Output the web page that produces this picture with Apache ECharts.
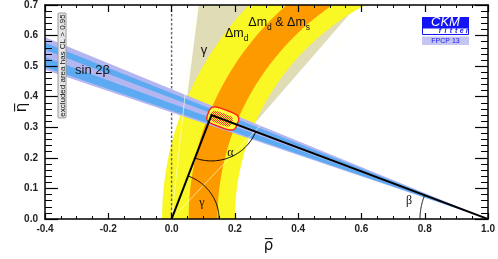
<!DOCTYPE html>
<html><head><meta charset="utf-8">
<script src="https://cdn.jsdelivr.net/npm/echarts@6/dist/echarts.min.js"></script>
<style>html,body{margin:0;padding:0;background:#fff}#c{width:498px;height:259px}</style>
</head><body><div id="c"></div>
<script>
// ---------- data ----------
const xTicks = [-0.4, -0.2, 0.0, 0.2, 0.4, 0.6, 0.8, 1.0];
const yTicks = [0.0, 0.1, 0.2, 0.3, 0.4, 0.5, 0.6, 0.7];
const apex = [0.126, 0.340];                 // (rho-bar, eta-bar) of the triangle apex
const gammaBandDeg = [50, 83];               // gamma constraint wedge (degrees)
const gammaEdgeDeg = [47.5, 84];             // gamma edge lines (degrees)
const dmdRadius = [0.80, 1.03];              // Delta m_d band radii around (1,0)
const dmdDmsRadius = [0.855, 0.946];         // Delta m_d & Delta m_s band radii
const sin2bOuterSlope = [0.349, 0.4245];     // tan(beta) range, outer band
const sin2bCoreSlopeLow = [0.3545, 0.3777];  // tan(beta) range, inner band (low)
const sin2bCoreSlopeHigh = [0.3954, 0.412];  // tan(beta) range, inner band (high)
const fitOuterCenter = [0.1617, 0.3288];
const fitOuterHalfAxes = [0.049, 0.029];
const fitInnerCenter = [0.157, 0.328];
const fitInnerHalfAxes = [0.036, 0.019];
const fitTiltDeg = 21;

// ---------- geometry helpers ----------
const D = Math.PI / 180;
function ring(r) {
  const pts = [], n = 160;
  for (let i = 0; i <= n; i++) { const t = (90 + 90 * i / n) * D; pts.push([1 + r[1] * Math.cos(t), r[1] * Math.sin(t)]); }
  for (let i = n; i >= 0; i--) { const t = (90 + 90 * i / n) * D; pts.push([1 + r[0] * Math.cos(t), r[0] * Math.sin(t)]); }
  return pts;
}
function fan(s) { return [[1, 0], [-1, 2 * s[0]], [-1, 2 * s[1]]]; }
function wedge(a) { return [[0, 0], [2 * Math.cos(a[0] * D), 2 * Math.sin(a[0] * D)], [2 * Math.cos(a[1] * D), 2 * Math.sin(a[1] * D)]]; }
function ray(a) { return [[0, 0], [2 * Math.cos(a * D), 2 * Math.sin(a * D)]]; }
function blob(c, h, tilt) {
  const pts = [], n = 160, t0 = -tilt * D;
  for (let i = 0; i < n; i++) {
    const t = i / n * 2 * Math.PI, ct = Math.cos(t), st = Math.sin(t);
    const u = h[0] * Math.sign(ct) * Math.pow(Math.abs(ct), 0.5);
    const v = h[1] * Math.sign(st) * Math.pow(Math.abs(st), 0.5);
    pts.push([c[0] + u * Math.cos(t0) - v * Math.sin(t0), c[1] + u * Math.sin(t0) + v * Math.cos(t0)]);
  }
  return pts;
}
function arc(c, r, a0, a1) {
  const pts = [], n = 60;
  for (let i = 0; i <= n; i++) { const t = a0 + (a1 - a0) * i / n; pts.push([c[0] + r * Math.cos(t), c[1] + r * Math.sin(t)]); }
  return pts;
}

// pattern for inner fit region
const pc = document.createElement('canvas'); pc.width = 2; pc.height = 2;
const pg = pc.getContext('2d');
pg.fillStyle = '#ffee44'; pg.fillRect(0, 0, 2, 2);
pg.fillStyle = '#f5401c'; pg.fillRect(0, 0, 1, 1); pg.fillRect(1, 1, 1, 1);

function layer(name, build) {
  return {
    type: 'custom', name: name, coordinateSystem: 'cartesian2d', silent: true, animation: false,
    data: [[0, 0]],
    renderItem: function (params, api) {
      const cs = params.coordSys;
      const P = pts => pts.map(p => api.coord(p));
      return { type: 'group', children: build(P),
        clipPath: { type: 'rect', shape: { x: cs.x, y: cs.y, width: cs.width, height: cs.height } } };
    }
  };
}
const poly = (pts, style) => ({ type: 'polygon', shape: { points: pts }, style: style });
const line = (pts, style) => ({ type: 'polyline', shape: { points: pts }, style: Object.assign({ fill: null }, style) });

const angOrigin = Math.atan2(-apex[1], -apex[0]);
const angOne = Math.atan2(-apex[1], 1 - apex[0]);
const angGamma = Math.atan2(apex[1], apex[0]);
const angBeta = Math.atan2(apex[1], 1 - apex[0]);

const series = [
  layer('gamma', P => [poly(P(wedge(gammaBandDeg)), { fill: '#e0dcb6' })]),
  layer('dmd', P => [poly(P(ring(dmdRadius)), { fill: '#f9f724' })]),
  layer('dmddms', P => [poly(P(ring(dmdDmsRadius)), { fill: '#fd9a00' })]),
  layer('zero', P => [line(P([[0, 0], [0, 0.7]]), { stroke: '#666', lineWidth: 1.4, lineDash: [2.5, 2] })]),
  layer('sin2b', P => [
    poly(P(fan(sin2bOuterSlope)), { fill: '#b4b6f2' }),
    poly(P(fan(sin2bCoreSlopeLow)), { fill: '#5cabf2' }),
    poly(P(fan(sin2bCoreSlopeHigh)), { fill: '#5cabf2' })
  ]),
  layer('gammaEdges', P => [
    line(P(ray(gammaEdgeDeg[0])), { stroke: 'rgba(255,255,215,0.8)', lineWidth: 0.8 }),
    line(P(ray(gammaEdgeDeg[1])), { stroke: 'rgba(255,255,215,0.8)', lineWidth: 0.8 })
  ]),
  layer('fit', P => [
    poly(P(blob(fitOuterCenter, fitOuterHalfAxes, fitTiltDeg)), { fill: '#ffff40', stroke: '#ff2010', lineWidth: 1.4 }),
    poly(P(blob(fitInnerCenter, fitInnerHalfAxes, fitTiltDeg)), { fill: { image: pc, repeat: 'repeat' } })
  ]),
  layer('triangle', P => [
    line(P([[0, 0], apex, [1, 0]]), { stroke: '#000', lineWidth: 2, lineJoin: 'miter' }),
    line(P(arc([0, 0], 0.15, 0, angGamma)), { stroke: '#000', lineWidth: 1 }),
    line(P(arc(apex, 0.15, angOrigin, angOne)), { stroke: '#000', lineWidth: 1 }),
    line(P(arc([1, 0], 0.215, Math.PI - angBeta, Math.PI)), { stroke: '#000', lineWidth: 1 })
  ])
];

// ---------- text / decorations ----------
const G = [];
const mctx = document.createElement('canvas').getContext('2d');
function tw(t, font) { mctx.font = font; return mctx.measureText(t).width; }
function label(x, y, parts, fam) {
  let cx = x;
  for (const p of parts) {
    const font = p.size + 'px ' + (fam || '"Liberation Sans"');
    G.push({ type: 'text', x: cx, y: y + (p.dy || 0), z: 30,
      style: { text: p.t, font: font, fill: '#111', align: 'left', verticalAlign: 'middle' } });
    cx += tw(p.t, font);
  }
}
label(225, 34, [{ t: 'Δm', size: 12.5 }, { t: 'd', size: 8.5, dy: 5 }]);
label(248.3, 22.5, [{ t: 'Δm', size: 12.5 }, { t: 'd', size: 8.5, dy: 5 }, { t: ' & Δm', size: 12.5 }, { t: 's', size: 8.5, dy: 5 }]);
function ctext(x, y, t, font, extra) {
  G.push(Object.assign({ type: 'text', x: x, y: y, z: 30,
    style: { text: t, font: font, fill: '#111', align: 'center', verticalAlign: 'middle' } }, extra || {}));
}
ctext(204, 50, 'γ', '13px "Liberation Sans"');
ctext(92.5, 70, 'sin 2β', '13px "Liberation Sans"');
ctext(230.3, 153, 'α', '12px "Liberation Serif"');
ctext(201.8, 203, 'γ', '12px "Liberation Serif"');
ctext(409, 201, 'β', '12px "Liberation Serif"');
// axis names
ctext(268.5, 246, 'ρ\u0305', '15px "DejaVu Sans"');
ctext(22.5, 107.5, 'η\u0305', '15px "DejaVu Sans"', { rotation: Math.PI / 2 });
// excluded-area note
G.push({ type: 'rect', z: 29, shape: { x: 58, y: 13, width: 8, height: 105, r: 1 }, style: { fill: '#e6e6e6', stroke: '#9a9a9a', lineWidth: 1 } });
ctext(62.3, 65.5, 'excluded area has CL > 0.95', '8px "Liberation Sans"', { rotation: Math.PI / 2 });
// CKMfitter logo
G.push({ type: 'rect', z: 29, shape: { x: 422, y: 17, width: 47, height: 11 }, style: { fill: '#1414f2' } });
G.push({ type: 'text', x: 445.5, y: 22.7, z: 30, style: { text: 'CKM', font: 'italic 13px "Liberation Sans"', fill: '#fff', align: 'center', verticalAlign: 'middle' } });
G.push({ type: 'rect', z: 29, shape: { x: 422.5, y: 28, width: 46, height: 6.5 }, style: { fill: '#fff', stroke: '#1414f2', lineWidth: 1 } });
'fitter'.split('').forEach((ch, i) => {
  G.push({ type: 'text', x: 440 + i * 5.4, y: 31.5, z: 30, style: { text: ch, font: 'italic bold 7px "Liberation Sans"', fill: '#1414f2', align: 'center', verticalAlign: 'middle' } });
});
G.push({ type: 'rect', z: 29, shape: { x: 422, y: 36.5, width: 47, height: 8.5 }, style: { fill: '#c5c5f2' } });
G.push({ type: 'text', x: 445.5, y: 41, z: 30, style: { text: 'FPCP 13', font: '7px "Liberation Sans"', fill: '#1414f2', align: 'center', verticalAlign: 'middle' } });

// ---------- axes ----------
const xInt = Math.round((xTicks[1] - xTicks[0]) * 1000) / 1000;
const yInt = Math.round((yTicks[1] - yTicks[0]) * 1000) / 1000;
const axLine = { onZero: false, lineStyle: { color: '#000', width: 1.5 } };
const lbl = { fontSize: 10, fontWeight: 'bold', color: '#222', fontFamily: 'Liberation Sans', formatter: v => v.toFixed(1) };
function xa(pos, show) {
  return { type: 'value', position: pos, z: 10, min: xTicks[0], max: xTicks[xTicks.length - 1], interval: xInt,
    axisLine: axLine, splitLine: { show: false },
    axisTick: { inside: true, length: pos === 'bottom' ? 6 : 7, lineStyle: { color: '#000', width: 1.2 } },
    minorTick: { show: true, splitNumber: 4, length: 3, lineStyle: { color: '#000', width: 1 } },
    axisLabel: Object.assign({ show: show, margin: 5 }, lbl) };
}
function ya(pos, show) {
  return { type: 'value', position: pos, z: 10, min: yTicks[0], max: yTicks[yTicks.length - 1], interval: yInt,
    axisLine: axLine, splitLine: { show: false },
    axisTick: { inside: true, length: 13, lineStyle: { color: '#000', width: 1.2 } },
    minorTick: { show: true, splitNumber: 5, length: 7, lineStyle: { color: '#000', width: 1 } },
    axisLabel: Object.assign({ show: show, margin: 7 }, lbl) };
}

const chart = echarts.init(document.getElementById('c'), null, { renderer: 'canvas' });
chart.setOption({
  animation: false,
  backgroundColor: '#fff',
  grid: { left: 45, right: 8, top: 5, bottom: 40 },
  xAxis: [xa('bottom', true), xa('top', false)],
  yAxis: [ya('left', true), ya('right', false)],
  series: series,
  graphic: { elements: G }
});
</script></body></html>
